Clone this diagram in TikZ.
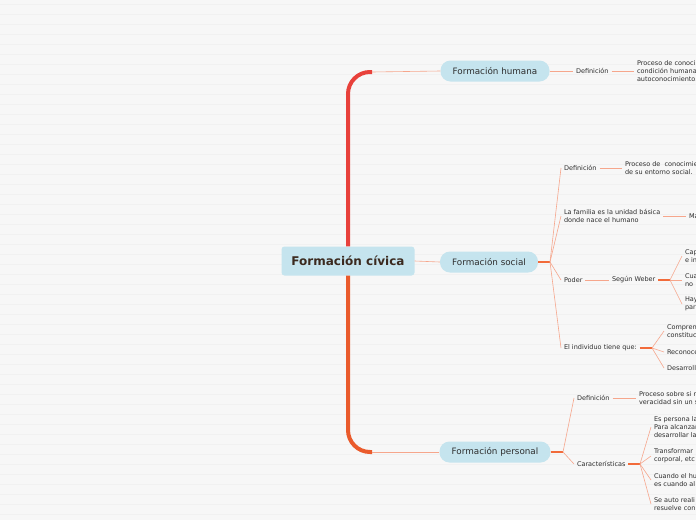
\documentclass[tikz,border=0pt]{standalone}
\usepackage{fontspec}
\setmainfont{DejaVu Sans}
\usepackage{tikz}
\usetikzlibrary{positioning}
\usepackage{xcolor}

\definecolor{bgcol}{HTML}{F7F7F7}
\definecolor{stripecol}{HTML}{F1F1F1}
\definecolor{boxblue}{HTML}{C5E4EE}
\definecolor{rootcol}{HTML}{3B2A1F}
\definecolor{txtcol}{HTML}{2E2E2E}
\definecolor{twigcol}{HTML}{F6A68C}
\definecolor{knotcol}{HTML}{F26B3A}
\definecolor{spinetop}{HTML}{E8413B}
\definecolor{spinebot}{HTML}{EA5B2C}

\tikzset{
  rootbox/.style={fill=boxblue, rounded corners=3pt, minimum width=133pt, minimum height=29pt,
    inner sep=0pt, text=rootcol, font=\fontsize{12}{14}\selectfont\bfseries},
  topic/.style={fill=boxblue, rounded corners=10pt, minimum height=21pt, inner sep=0pt,
    text=txtcol, font=\fontsize{8.8}{10}\selectfont},
  leaf/.style={anchor=west, inner sep=0pt, outer xsep=3pt, align=left, text=txtcol,
    font=\fontsize{6.5}{8}\selectfont},
  twig/.style={draw=twigcol, line width=0.6pt},
  knot/.style={draw=knotcol, line width=1.2pt},
  spine/.style={line width=4pt, rounded corners=22pt}
}

\begin{document}
\begin{tikzpicture}[x=1pt,y=-1pt]
    \useasboundingbox (0,0) rectangle (696,520);
    \fill[bgcol] (0,0) rectangle (696,520);
    \foreach \k in {0,...,51}{%
      \draw[stripecol,line width=1pt] (0,{10*\k+4}) -- (696,{10*\k+4});}
    \clip (0,0) rectangle (696,520);

    % main topic and its three branches
    \node[rootbox] (root) at (348,261) {Formación cívica};
    \node[topic,minimum width=109pt] (hum)  at (495,71)  {Formación humana};
    \node[topic,minimum width=98pt]  (soc)  at (489,262) {Formación social};
    \node[topic,minimum width=111pt] (pers) at (495,452) {Formación personal};

    \coordinate (humk)  at (372,72);
    \coordinate (persk) at (372,452);
    \draw[spine,spinetop] (root.north) |- (humk);
    \draw[spine,spinebot] (root.south) |- (persk);
    \draw[twig] (humk) -- (hum.west);
    \draw[twig] (persk) -- (pers.west);
    \draw[twig] (root.east) -- (soc.west);

    % Formación humana
    \node[leaf] (hdef)  at (573,71) {Definición};
    \node[leaf] (hdesc) at (634,71) {Proceso de conoci\\condición humana\\autoconocimiento.};
    \draw[twig] (hum.east) -- (hdef.west);
    \draw[twig] (hdef.east) -- (hdesc.west);

    % Formación social
    \coordinate (socj) at (550,262);
    \node[leaf] (sdef)   at (561,168) {Definición};
    \node[leaf] (sdesc)  at (622,168) {Proceso de \ conocimie\\de su entorno social.};
    \node[leaf] (fam)    at (561,216) {La familia es la unidad básica\\donde nace el humano};
    \node[leaf] (famma)  at (686,216) {Ma};
    \node[leaf] (poder)  at (561,280) {Poder};
    \node[leaf] (weber)  at (609,280) {Según Weber};
    \node[leaf] (indiv)  at (561,348) {El individuo tiene que:};
    \draw[knot] (soc.east) -- (socj);
    \foreach \n in {sdef,fam,poder,indiv}{%
      \draw[twig] (socj) -- (\n.west);}
    \draw[twig] (sdef.east) -- (sdesc.west);
    \draw[twig] (fam.east) -- (famma.west);
    \draw[twig] (poder.east) -- (weber.west);

    \coordinate (weberj) at (670,280);
    \node[leaf] (wa) at (682,256) {Cap\\e in};
    \node[leaf] (wb) at (682,280) {Cua\\no};
    \node[leaf] (wc) at (682,304) {Hay\\par};
    \draw[knot] (weber.east) -- (weberj);
    \foreach \n in {wa,wb,wc}{%
      \draw[twig] (weberj) -- (\n.west);}

    \coordinate (indivj) at (652,348);
    \node[leaf] (ia) at (664,331) {Comprend\\constituc};
    \node[leaf] (ib) at (664,352) {Reconoce};
    \node[leaf] (ic) at (664,368) {Desarroll};
    \draw[knot] (indiv.east) -- (indivj);
    \foreach \n in {ia,ib,ic}{%
      \draw[twig] (indivj) -- (\n.west);}

    % Formación personal
    \coordinate (persj) at (563,452);
    \node[leaf] (pdef)  at (574,398) {Definición};
    \node[leaf] (pdesc) at (636,398) {Proceso sobre si m\\veracidad sin un s};
    \node[leaf] (carac) at (574,464) {Características};
    \draw[knot] (pers.east) -- (persj);
    \draw[twig] (persj) -- (pdef.west);
    \draw[twig] (persj) -- (carac.west);
    \draw[twig] (pdef.east) -- (pdesc.west);

    \coordinate (caracj) at (640,464);
    \node[leaf] (ca) at (651,427) {Es persona la\\Para alcanzar\\desarrollar la};
    \node[leaf] (cb) at (651,456) {Transformar\\corporal, etc};
    \node[leaf] (cc) at (651,480) {Cuando el hu\\es cuando al};
    \node[leaf] (cd) at (651,504) {Se auto reali\\resuelve con};
    \draw[knot] (carac.east) -- (caracj);
    \foreach \n in {ca,cb,cc,cd}{%
      \draw[twig] (caracj) -- (\n.west);}
  \end{tikzpicture}
\end{document}
